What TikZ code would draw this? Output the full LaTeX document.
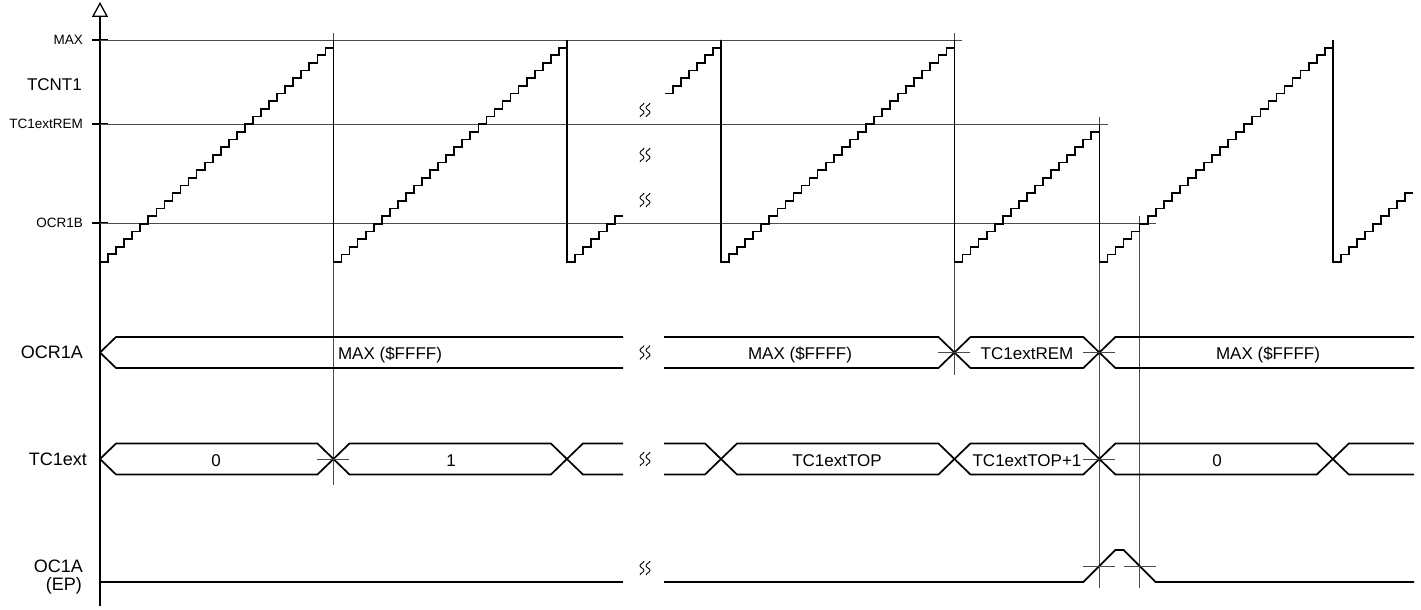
\documentclass[tikz,border=0pt]{standalone}
\usepackage{fontspec}
\setmainfont{Liberation Sans}
\usetikzlibrary{arrows.meta}

\tikzset{
	wave/.style={line width=1.7pt,line join=miter},
	thin line/.style={line width=0.9pt,color=black!70},
	lbl/.style={inner sep=0pt,font=\fontsize{17}{17}\selectfont},
	side lbl/.style={inner sep=0pt,font=\fontsize{18}{18}\selectfont},
	small lbl/.style={inner sep=0pt,font=\fontsize{13.5}{14}\selectfont},
}
\def\sw{8.05}\def\sh{7.655}
\def\bs{16}\def\bh{15.5}
\newcommand{\busseg}[6]{%
	\draw[wave] (#3,#2) -- ({#3+\bs},{#2-\bh}) -- ({#4-\bs},{#2-\bh}) -- (#4,#2) -- ({#4-\bs},{#2+\bh}) -- ({#3+\bs},{#2+\bh}) -- cycle;
	\node[lbl,anchor=base] (#1) at (#5,{#2+7}) {#6};}

\begin{document}
\begin{tikzpicture}[x=1pt,y=-1pt]
	\useasboundingbox (0,0) rectangle (1421,610);
	\def\tA{333.45}\def\tB{566.9}\def\tC{721}\def\tD{954.45}\def\tE{1099.35}\def\tF{1332.8}\def\tG{1139.6}
	% axis
	\draw[line width=1.3pt,-{Triangle[open,length=15pt,width=16pt]}] (100,606) -- (100,2);
	\foreach \y in {40,124,223}
		\draw[line width=1.3pt] (92,\y) -- (108,\y);
	\node[small lbl,anchor=base east] (lmax) at (83,44.8) {MAX};
	\node[lbl,anchor=base east] (ltcnt) at (82,90) {TCNT1};
	\node[small lbl,anchor=base east] (lrem) at (83,128.8) {TC1extREM};
	\node[small lbl,anchor=base east] (locrb) at (83,227.8) {OCR1B};
	\node[side lbl,anchor=base east] (locra) at (83,358.5) {OCR1A};
	\node[side lbl,anchor=base east] (ltc) at (87,465) {TC1ext};
	\node[side lbl,anchor=base east] (loca) at (83,572.5) {OC1A};
	\node[side lbl,anchor=base east] (lep) at (82,590) {(EP)};
	% levels and markers
	\draw[thin line] (100,40) -- (962,40);
	\draw[thin line] (100,124) -- (1108,124);
	\draw[thin line] (100,223) -- (1156,223);
	\draw[thin line] (\tA,33) -- (\tA,485);
	\draw[thin line] (\tD,33) -- (\tD,375);
	\draw[thin line] (\tE,117) -- (\tE,588);
	\draw[thin line] (\tG,216) -- (\tG,588);
	% TCNT1
	\draw[wave] (100,262) \foreach \i in {1,...,29} {-- ++(\sw,0) -- ++(0,-\sh)} -- ++(0,222)
		\foreach \i in {1,...,29} {-- ++(\sw,0) -- ++(0,-\sh)} -- ++(0,222)
		\foreach \i in {1,...,6} {-- ++(\sw,0) -- ++(0,-\sh)} -- ++(\sw,0);
	\draw[wave] (664.65,93.585) \foreach \i in {1,...,7} {-- ++(\sw,0) -- ++(0,-\sh)} -- ++(0,222)
		\foreach \i in {1,...,29} {-- ++(\sw,0) -- ++(0,-\sh)} -- ++(0,222)
		\foreach \i in {1,...,18} {-- ++(\sw,0) -- ++(0,-\sh)} -- ++(0,137.79)
		\foreach \i in {1,...,29} {-- ++(\sw,0) -- ++(0,-\sh)} -- ++(0,222)
		\foreach \i in {1,...,9} {-- ++(\sw,0) -- ++(0,-\sh)} -- ++(\sw,0);
	% OCR1A
	\draw[wave] (623,337) -- (116,337) -- (100,352.5) -- (116,368) -- (623,368);
	\node[lbl,anchor=base] (ocraA) at (390,359.5) {MAX (\$FFFF)};
	\draw[wave] (664,337) -- ({\tD-\bs},337) -- (\tD,352.5) -- ({\tD-\bs},368) -- (664,368);
	\node[lbl,anchor=base] (ocraB) at (800,359.5) {MAX (\$FFFF)};
	\busseg{ocraC}{352.5}{\tD}{\tE}{1027}{TC1extREM}
	\draw[wave] (1414,337) -- ({\tE+\bs},337) -- (\tE,352.5) -- ({\tE+\bs},368) -- (1414,368);
	\node[lbl,anchor=base] (ocraD) at (1268,359.5) {MAX (\$FFFF)};
	% TC1ext
	\busseg{tcA}{459}{100}{\tA}{216}{0}
	\busseg{tcB}{459}{\tA}{\tB}{451}{1}
	\draw[wave] (623,443.5) -- ({\tB+\bs},443.5) -- (\tB,459) -- ({\tB+\bs},474.5) -- (623,474.5);
	\draw[wave] (664,443.5) -- ({\tC-\bs},443.5) -- (\tC,459) -- ({\tC-\bs},474.5) -- (664,474.5);
	\busseg{tcC}{459}{\tC}{\tD}{837}{TC1extTOP}
	\busseg{tcD}{459}{\tD}{\tE}{1027}{TC1extTOP+1}
	\busseg{tcE}{459}{\tE}{\tF}{1217}{0}
	\draw[wave] (1414,443.5) -- ({\tF+\bs},443.5) -- (\tF,459) -- ({\tF+\bs},474.5) -- (1414,474.5);
	% OC1A
	\draw[wave] (100,582) -- (623,582);
	\draw[wave] (664,582) -- ({\tE-16},582) -- ({\tE+16},550) -- ({\tG-16},550) -- ({\tG+16},582) -- (1414,582);
	\foreach \x/\y in {\tA/459,\tD/352.5,\tE/352.5,\tE/459,\tE/566,\tG/566}
		\draw[thin line] ({\x-16},\y) -- ({\x+16},\y);
	% breaks
	\foreach \y in {110,155,200,352.5,459,568}
		\foreach \dx in {-3,3}
			\draw[line width=0.9pt,shift={(645+\dx,\y)}] plot[smooth,samples=15,domain=-7:7] ({2*sin(\x*38)},\x);
\end{tikzpicture}
\end{document}
